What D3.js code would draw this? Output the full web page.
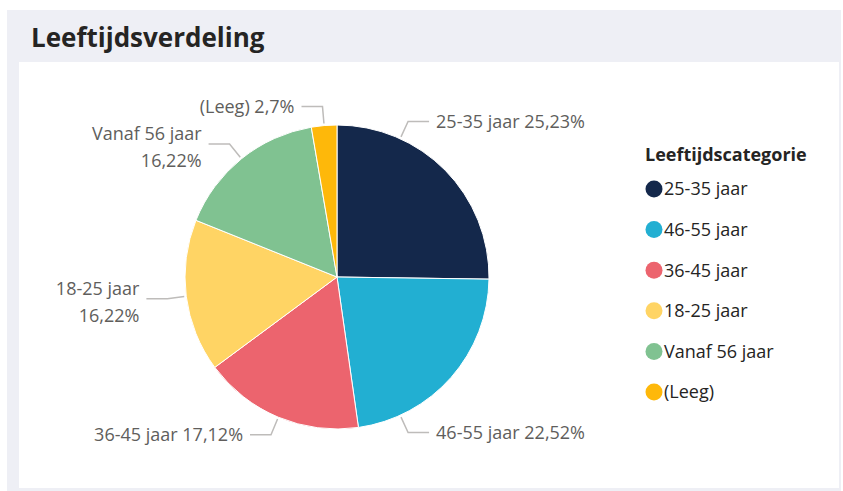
<!DOCTYPE html>
<html>
<head>
<meta charset="utf-8">
<script src="https://cdn.jsdelivr.net/npm/d3@7"></script>
<style>
  body { margin: 0; background: #fff; }
  text { font-family: "Open Sans", "Noto Sans", sans-serif; }
</style>
</head>
<body>
<div id="chart"></div>
<script>
// data (counts give the shown percentages)
const categories = ["25-35 jaar", "46-55 jaar", "36-45 jaar", "18-25 jaar", "Vanaf 56 jaar", "(Leeg)"];
const counts = [28, 25, 19, 18, 18, 3];
const colors = ["#14284B", "#22AFD2", "#EC646E", "#FFD464", "#80C291", "#FEB80A"];

const width = 843, height = 491;
const cx = 337, cy = 277, radius = 152;
const elbowR = radius + 19, hLen = 21, gap = 7;
const rightBound = 585, leftBound = 80;

const nl = d3.formatLocale({ decimal: ",", thousands: ".", grouping: [3], currency: ["€", ""] });
const fmtPct = nl.format(".2~f");
const total = d3.sum(counts);

const data = categories.map((c, i) => ({
    name: c,
    value: counts[i],
    color: colors[i],
    pct: fmtPct(counts[i] / total * 100) + "%"
}));

const svg = d3.select("#chart").append("svg")
    .attr("width", width)
    .attr("height", height);

// card frame
svg.append("rect").attr("x", 7).attr("y", 10).attr("width", 834).attr("height", 481).attr("fill", "#EEEFF5");
svg.append("rect").attr("x", 19).attr("y", 62).attr("width", 820).attr("height", 426).attr("fill", "#fff");

svg.append("text")
    .attr("x", 31).attr("y", 47)
    .attr("font-size", 26).attr("font-weight", 700)
    .attr("fill", "#252423")
    .text("Leeftijdsverdeling");

const pie = d3.pie().sort(null).value(d => d.value);
const arcs = pie(data);
const arc = d3.arc().innerRadius(0).outerRadius(radius);

const g = svg.append("g").attr("transform", `translate(${cx},${cy})`);

g.selectAll("path.slice")
    .data(arcs)
    .join("path")
    .attr("class", "slice")
    .attr("d", arc)
    .attr("fill", d => d.data.color)
    .attr("stroke", "#fff")
    .attr("stroke-width", 1);

// labels with leader lines, pushed towards top/bottom when they don't fit
const labelG = g.append("g");
const pt = (a, r) => [r * Math.sin(a), -r * Math.cos(a)];

arcs.forEach(d => {
    let a = (d.startAngle + d.endAngle) / 2;
    const right = Math.sin(a) >= 0;
    const t = labelG.append("text")
        .attr("font-size", 18)
        .attr("fill", "#605E5C");
    const full = d.data.name + " " + d.data.pct;
    t.text(full);
    const w = t.node().getComputedTextLength();
    let lines = [full];

    if (right) {
        const ex = pt(a, elbowR)[0];
        if (cx + ex + hLen + gap + w > rightBound) {
            const need = Math.max(0, Math.min(elbowR, rightBound - w - hLen - gap - cx));
            const s = Math.asin(need / elbowR);
            a = Math.cos(a) >= 0 ? s : Math.PI - s;
        }
    } else {
        const ex = pt(a, elbowR)[0];
        if (cx + ex - hLen - gap - w < leftBound) lines = [d.data.name, d.data.pct];
    }

    const p0 = pt(a, radius + 2);
    const p1 = pt(a, elbowR);
    const dir = right ? 1 : -1;
    const p2 = [p1[0] + dir * hLen, p1[1]];

    labelG.append("polyline")
        .attr("points", [p0, p1, p2].map(p => p.join(",")).join(" "))
        .attr("fill", "none")
        .attr("stroke", "#BEBCBA")
        .attr("stroke-width", 1.5);

    const tx = p2[0] + dir * gap;
    t.text(null)
        .attr("text-anchor", right ? "start" : "end")
        .attr("x", tx);
    if (lines.length === 1) {
        t.attr("y", p1[1]).attr("dy", "0.35em").text(full);
    } else {
        t.attr("y", p1[1] - 4);
        t.append("tspan").attr("x", tx).text(lines[0]);
        t.append("tspan").attr("x", tx).attr("dy", 27).text(lines[1]);
    }
});

// legend
const legend = svg.append("g").attr("transform", "translate(645,0)");
legend.append("text")
    .attr("x", 0).attr("y", 155).attr("dy", "0.35em")
    .attr("font-size", 18).attr("font-weight", 700)
    .attr("fill", "#252423")
    .text("Leeftijdscategorie");

const ly = d3.scalePoint().domain(categories).range([189, 392]);
const item = legend.selectAll("g.item")
    .data(data)
    .join("g")
    .attr("class", "item")
    .attr("transform", d => `translate(0,${ly(d.name)})`);
item.append("circle").attr("cx", 9).attr("r", 8.5).attr("fill", d => d.color);
item.append("text")
    .attr("x", 19).attr("dy", "0.35em")
    .attr("font-size", 18)
    .attr("fill", "#252423")
    .text(d => d.name);
</script>
</body>
</html>
